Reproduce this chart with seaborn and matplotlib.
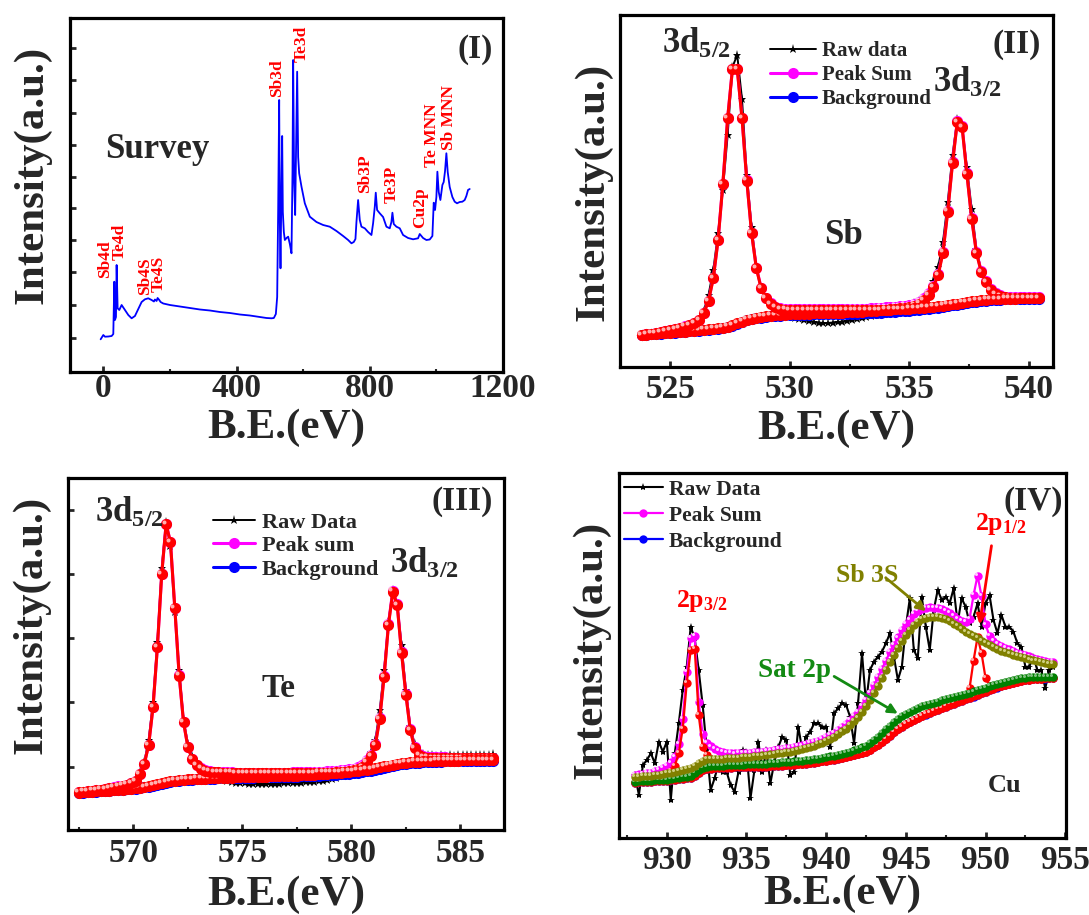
import numpy as np
import matplotlib
matplotlib.use("Agg")
import matplotlib.pyplot as plt
from matplotlib.ticker import MultipleLocator
from matplotlib.transforms import offset_copy
import seaborn as sns

W, H = 1089, 915

# ---------------- (I) survey ----------------
survey_be = [-8, 0, 5, 15, 25, 30, 33, 35, 38, 40,
             43, 48, 55, 65, 75, 85, 95, 105, 115, 125,
             135, 145, 152, 155, 160, 163, 168, 172, 180, 200,
             230, 260, 290, 320, 350, 380, 410, 440, 470, 490,
             505, 512, 518, 522, 525, 528, 530, 532, 535, 537,
             539, 542, 545, 550, 555, 560, 565, 568, 570, 573,
             576, 579, 582, 585, 588, 595, 605, 620, 640, 660,
             680, 700, 720, 735, 745, 752, 757, 760, 765, 770,
             775, 785, 795, 805, 810, 815, 818, 822, 830, 840,
             850, 860, 865, 868, 872, 880, 890, 900, 915, 930,
             945, 950, 960, 970, 980, 988, 992, 996, 1000, 1003,
             1007, 1012, 1018, 1022, 1026, 1030, 1034, 1040, 1048, 1055,
             1062, 1070, 1078, 1085, 1090, 1095, 1100]
survey_int = [32.7, 37, 35.3, 35.5, 36, 38, 90.3, 52, 55, 107,
              63.7, 62, 67, 62, 57, 53.7, 56, 63, 70, 72.7,
              73.7, 72, 70.5, 72.5, 71, 74, 72, 70, 68.5, 67,
              65.5, 64, 62.5, 61.5, 60, 59, 57.5, 56.5, 55, 54,
              53.7, 54, 58, 75, 162, 272, 150, 103.7, 190, 236,
              160, 140, 132, 134, 135.3, 128, 118.7, 200, 312, 190,
              157, 230, 300.3, 215, 198.7, 185.3, 168.7, 155.3, 150, 147,
              145.3, 141, 136, 132, 128.7, 130, 133, 150, 172, 152,
              145.3, 143.7, 140, 137, 148.7, 165, 179.3, 162, 158.7, 155,
              145.3, 143.7, 150, 159.3, 148, 145.3, 143.7, 137, 134, 132.7,
              133.7, 138, 134, 132, 132.5, 136, 169.3, 162, 175, 200.3,
              180, 172, 187, 190, 201, 218.7, 200, 185, 175, 170.3,
              168.7, 170, 170.3, 172, 176, 182, 183]
survey_tags = ["Sb4d", "Te4d", "Sb4S", "Te4S", "Sb3d", "Te3d", "Sb3P", "Te3P",
               "Cu2p", "Te MNN", "Sb MNN"]
tag_be = [5, 50, 125, 167, 521, 596, 785, 866, 950, 986, 1037]
tag_int = [94, 112, 77, 80, 275, 310, 179, 169, 144, 205, 222]

# ---------------- (II) Sb 3d ----------------
sb_be = np.round(np.arange(523.8, 540.41, 0.2), 1)
sb_bg = [32, 32.3, 32.7, 33, 33.4, 33.8, 34.2, 34.5, 34.8, 35.2,
         35.6, 36, 36.4, 36.8, 37.2, 37.7, 38.3, 39, 40, 41.5,
         43.2, 45, 46.6, 47.8, 48.8, 49.5, 50.1, 50.6, 51, 51.3,
         51.6, 51.9, 52.1, 52.3, 52.4, 52.5, 52.6, 52.7, 52.8, 52.9,
         53, 53.1, 53.2, 53.3, 53.4, 53.5, 53.6, 53.8, 54, 54.2,
         54.4, 54.7, 55, 55.3, 55.6, 55.9, 56.3, 56.7, 57.2, 57.7,
         58.2, 58.8, 59.4, 60.1, 60.9, 61.7, 62.5, 63.3, 64.1, 64.8,
         65.4, 66, 66.5, 66.9, 67.2, 67.5, 67.7, 67.9, 68, 68.1,
         68.2, 68.3, 68.3, 68.4]
sb_p52 = [0, .3, .6, 1, 1.4, 1.9, 2.5, 3.3, 4.2, 5.2,
          6.4, 8, 10.6, 16.9, 28.8, 51, 88.7, 144, 208.7, 256.2,
          254.5, 203.7, 139.7, 85.9, 49.9, 29.2, 18.6, 12.4, 8.7, 6.7,
          5.7, 5.1, 4.8, 4.6, 4.4, 4.2, 4.0, 3.9, 3.8, 3.7,
          3.6, 3.5, 3.4, 3.3, 3.2, 3.1, 3.0, 2.9, 2.8, 2.7,
          2.6, 2.5, 2.4, 2.3, 2.2, 2.1, 2.0, 1.9, 1.8, 1.7,
          1.6, 1.5, 1.4, 1.3, 1.2, 1.1, 1.0, .95, .9, .85,
          .8, .75, .7, .65, .6, .55, .5, .5, .45, .45,
          .4, .4, .4, .35]
sb_p32 = [.2, .2, .2, .2, .2, .2, .3, .3, .3, .3,
          .3, .3, .3, .4, .4, .4, .4, .4, .5, .5,
          .5, .5, .5, .6, .6, .6, .6, .7, .7, .7,
          .8, .8, .8, .9, .9, 1.0, 1.0, 1.1, 1.1, 1.2,
          1.2, 1.3, 1.3, 1.4, 1.5, 1.6, 1.7, 1.8, 1.9, 2.0,
          2.2, 2.4, 2.6, 2.8, 3.0, 3.3, 3.7, 4.8, 6.3, 9.3,
          13.8, 21.2, 32.6, 54, 94.4, 142, 182.5, 176.7, 128.9, 83.2,
          48.6, 29, 18.5, 10.1, 5.8, 3.5, 2.3, 1.6, 1.3, 1.1,
          1.0, .9, .9, .8]
sb_raw = [32, 33, 33.5, 34, 35, 36, 37, 38, 39.5, 41,
          42, 44, 46, 56, 72, 97, 134, 177, 232, 300,
          312, 268, 192, 140, 100, 78, 68, 62, 58, 55,
          53, 51, 49, 48, 47, 46, 45, 44.5, 44, 44,
          44.5, 45, 45.5, 46, 47, 48, 49, 50, 51, 52,
          53, 54, 55, 56.5, 58, 60, 62, 64, 66, 70,
          76, 86, 100, 125, 165, 212, 248, 240, 200, 158,
          118, 96, 84, 77, 73, 71, 70, 70, 69.5, 69.5,
          69.5, 69.5, 69.5, 69.5]

# ---------------- (III) Te 3d ----------------
te_be = np.round(np.arange(567.5, 586.51, 0.2), 1)
te_bg = [37.3, 37.5, 37.8, 38.1, 38.4, 38.7, 39, 39.3, 39.6, 39.9,
         40.3, 40.7, 41.1, 41.5, 42, 42.7, 43.5, 44.4, 45.4, 46.4,
         47.4, 48.3, 49, 49.5, 49.9, 50.2, 50.5, 50.7, 50.9, 51.1,
         51.3, 51.5, 51.6, 51.8, 51.9, 52, 52.1, 52.2, 52.3, 52.4,
         52.5, 52.6, 52.7, 52.8, 52.9, 53, 53.1, 53.2, 53.3, 53.4,
         53.5, 53.6, 53.8, 54, 54.2, 54.4, 54.6, 54.8, 55.1, 55.4,
         55.7, 56, 56.4, 56.8, 57.3, 57.9, 58.6, 59.4, 60.3, 61.3,
         62.3, 63.3, 64.2, 65, 65.7, 66.3, 66.8, 67.2, 67.5, 67.8,
         68, 68.2, 68.4, 68.5, 68.6, 68.7, 68.8, 68.9, 69, 69.1,
         69.1, 69.2, 69.2, 69.3, 69.3, 69.4]
te_p52 = [.5, .6, .8, 1.0, 1.2, 1.5, 1.9, 2.4, 2.9, 3.5,
          3.9, 4.5, 5.5, 7.5, 14, 23.3, 41.5, 78.3, 137.3, 209.6,
          258.3, 239.4, 172.7, 104.8, 57.8, 32.5, 20.2, 14.3, 10.6, 8.4,
          7.2, 6.5, 6, 5.6, 5.3, 5.1, 4.9, 4.7, 4.5, 4.3,
          4.2, 4.1, 4.0, 3.9, 3.8, 3.7, 3.6, 3.5, 3.4, 3.3,
          3.2, 3.1, 3.0, 2.9, 2.8, 2.7, 2.6, 2.5, 2.4, 2.3,
          2.2, 2.1, 2.0, 1.9, 1.8, 1.7, 1.6, 1.5, 1.4, 1.3,
          1.3, 1.2, 1.2, 1.1, 1.1, 1.0, 1.0, .9, .9, .8,
          .8, .8, .7, .7, .7, .6, .6, .6, .6, .5,
          .5, .5, .5, .5, .5, .4]
te_p32 = [.2, .2, .2, .2, .2, .2, .2, .2, .2, .2,
          .2, .2, .2, .2, .3, .3, .3, .3, .3, .3,
          .3, .3, .3, .3, .3, .4, .4, .4, .4, .4,
          .4, .4, .4, .5, .5, .5, .5, .5, .6, .6,
          .6, .6, .6, .7, .7, .7, .8, .8, .8, .9,
          .9, 1.0, 1.0, 1.1, 1.1, 1.2, 1.3, 1.4, 1.5, 1.6,
          1.8, 2.0, 2.3, 2.8, 3.6, 5.1, 9.4, 14.6, 24.7, 49.7,
          90.7, 141.7, 174.1, 160, 111.3, 68.7, 33.2, 14.8, 7.5, 5,
          4.2, 3.8, 3.6, 3.4, 3.3, 3.2, 3.1, 3.0, 2.9, 2.8,
          2.8, 2.7, 2.7, 2.6, 2.6, 2.5]
te_raw = [38, 38.5, 39, 39.5, 40, 40.5, 41, 42, 43, 43.5,
          44.5, 45.5, 47, 50, 58, 68, 90, 128, 188, 262,
          308, 284, 218, 160, 110, 86, 74, 66, 61, 58,
          56, 54, 52, 50, 49, 48, 47.5, 47, 47, 46.5,
          46.5, 46, 46, 46, 46, 46.5, 46.5, 47, 47, 47,
          47.5, 47.5, 48, 48, 48.5, 49, 49.5, 50, 51, 52,
          54, 56, 58, 60, 63, 66, 71, 78, 90, 120,
          160, 208, 240, 226, 185, 140, 104, 86, 78, 76,
          75, 75, 74.5, 75, 74.5, 75, 74.5, 75, 75, 75,
          75.5, 75, 75.5, 75, 75.5, 76]

# ---------------- (IV) Cu 2p ----------------
cu_be = np.round(np.arange(928.0, 954.26, 0.25), 2)
cu_bg = [55.5, 55.7, 55.9, 56.1, 56.3, 56.6, 56.9, 57.2, 57.5, 57.9,
         58.3, 58.8, 59.3, 59.8, 60.5, 62.5, 65.5, 67.8, 68.9, 69.4,
         69.7, 69.9, 70.1, 70.3, 70.5, 70.6, 70.7, 70.8, 70.9, 71,
         71.1, 71.2, 71.4, 71.5, 71.7, 71.9, 72.1, 72.4, 72.7, 73,
         73.3, 73.6, 74, 74.5, 75, 75.5, 76, 76.6, 77.2, 77.8,
         78.5, 79.3, 80.1, 80.9, 81.7, 82.8, 83.9, 85, 86.2, 88.3,
         90.7, 93.3, 96, 99.3, 102.5, 105.8, 109.2, 111.5, 113.7, 115.8,
         118, 120, 121.8, 123.5, 125.2, 126.6, 128.2, 129.8, 131.4, 133,
         134.4, 135.8, 137.2, 138.6, 140, 141.5, 143, 144.7, 146.1, 147.6,
         149.1, 150.5, 151.6, 152.7, 153.8, 155, 156, 156.8, 157.6, 158.3,
         158.8, 159.1, 159.3, 159.5, 159.6, 159.7]
cu_sat = [56.3, 56.6, 56.9, 57.2, 57.5, 57.8, 58.1, 58.4, 58.5, 59,
          59.6, 60.2, 60.8, 61.4, 62.5, 65.5, 68.5, 70.5, 71.5, 72,
          72.2, 72.4, 72.5, 72.7, 72.9, 73.1, 73.3, 73.5, 73.7, 73.9,
          74, 74.2, 74.4, 74.5, 74.8, 75.1, 75.4, 75.7, 76, 76.3,
          76.6, 77, 77.4, 77.9, 78.4, 78.8, 79.3, 80.1, 80.8, 81.6,
          82.5, 83.4, 84.4, 85.4, 86.3, 87.6, 89.1, 90.6, 92.4, 95,
          98, 101.5, 105, 108.8, 112.5, 116, 119.5, 121.8, 124, 126,
          128.3, 130.1, 131.9, 133.3, 134.4, 135.3, 136.5, 137.8, 139, 140.3,
          141.3, 142.2, 143.2, 144.2, 145.4, 146.6, 147.7, 149, 150.4, 151.7,
          153.1, 154.5, 155.4, 156.3, 157.2, 158.1, 159, 159.7, 160.3, 161,
          161.3, 161.4, 161.4, 161.5, 161.5, 161.5]
cu_sb3s = [61.3, 61.5, 61.7, 61.9, 62.1, 62.8, 63.4, 64.1, 64.7, 65.5,
           66.3, 67.1, 68, 69.2, 70.5, 72.5, 75.5, 77.5, 78.7, 79,
           79.2, 79.4, 79.5, 79.7, 79.9, 80.1, 80.4, 80.7, 81, 81.4,
           81.8, 82.2, 82.6, 83, 83.6, 84.1, 84.7, 85.3, 85.9, 86.5,
           87.2, 87.8, 88.8, 89.9, 91, 92.2, 93.7, 95.4, 97.1, 98.8,
           101, 103.8, 106.6, 109.4, 112.8, 116.7, 120.6, 126, 131.7, 138.1,
           145.2, 152.5, 159.7, 167.7, 175.7, 183, 190.1, 197.2, 203.5, 208.2,
           213, 216.3, 218.7, 219.8, 220.8, 221.3, 221.3, 220.4, 219, 217.2,
           214.5, 211.8, 208.8, 206, 203.9, 201.8, 199.7, 197.3, 195.2, 193.2,
           191.1, 189, 187.5, 186, 184.6, 183.2, 182, 180.8, 179.7, 178.6,
           177.6, 176.7, 175.8, 175, 174.3, 173.7]
cu_p32 = [1, 1.2, 1.5, 1.8, 2.2, 2.8, 3.5, 4.5, 6, 9,
          14, 26, 50, 95, 127.5, 127, 57.5, 23.5, 14, 10,
          7.6, 5.5, 4, 3, 2.4, 2, 1.7, 1.5, 1.3, 1.2,
          1.1, 1, .9, .8, .8, .7, .7, .6, .6, .5,
          .5, .5, .4, .4, .4, .4, .3, .3, .3, .3,
          .3, .3, .3, .3, .3, .2, .2, .2, .2, .2,
          .2, .2, .2, .2, .2, .2, .2, .2, .2, .2,
          .2, .2, .2, .2, .2, .1, .1, .1, .1, .1,
          .1, .1, .1, .1, .1, .1, .1, .1, .1, .1,
          .1, .1, .1, .1, .1, .1, .1, .1, .1, .1,
          .1, .1, .1, .1, .1, .1]
cu_p12 = [0, 0, 0, 0, 0, 0, 0, 0, 0, 0,
          0, 0, 0, 0, 0, 0, 0, 0, 0, 0,
          0, 0, 0, 0, 0, 0, 0, 0, 0, 0,
          0, 0, 0, 0, 0, 0, 0, 0, 0, 0,
          0, 0, 0, 0, 0, 0, 0, 0, 0, 0,
          0, 0, 0, 0, 0, 0, 0, 0, 0, 0,
          0, 0, 0, 0, 0, 0, 0, 0, 0, 0,
          .2, .2, .3, .3, .4, .4, .5, .6, .7, .8,
          1.0, 1.2, 2, 4, 10, 36, 58, 40, 14, 4.5,
          2, 1.2, .8, .6, .5, .4, .3, .3, .2, .2,
          .2, .2, .1, .1, .1, .1]
cu_raw = [63, 43, 73, 78, 84.7, 74.7, 96.3, 86.3, 96.3, 38,
          84.7, 114.7, 148, 171.3, 211.3, 199.7, 168, 133, 89.7, 48,
          59.7, 74.7, 66.3, 66.3, 53, 46.3, 66.3, 88, 86.3, 39.7,
          68, 96.3, 66.3, 88, 54.7, 76.3, 91.3, 101.3, 98, 63,
          66.3, 111.3, 88, 101.3, 106.3, 114.7, 114.7, 111.3, 111.3, 91.3,
          124.7, 129.7, 134.7, 133, 121.3, 94.7, 134.7, 184.7, 134.7, 168,
          176.3, 181.3, 186.3, 194.7, 204.7, 181.3, 158, 171.3, 211.3, 239.7,
          188, 179.7, 241.3, 211.3, 188, 228, 248, 238, 241.3, 234.7,
          249.7, 214.7, 239.7, 231.3, 214.7, 221.3, 234.7, 211.3, 234.7, 243,
          218, 204.7, 223, 211.3, 211.3, 206.3, 194.7, 191.3, 171.3, 171.3,
          181.3, 168, 168, 149.7, 168, 171.3]

sns.set_style("white")
plt.rcParams["font.family"] = ["Liberation Serif", "DejaVu Serif"]
plt.rcParams["font.weight"] = "bold"
plt.rcParams["axes.labelweight"] = "bold"
plt.rcParams["mathtext.fontset"] = "custom"
plt.rcParams["mathtext.rm"] = "Liberation Serif:bold"
plt.rcParams["mathtext.it"] = "Liberation Serif:bold"
plt.rcParams["mathtext.bf"] = "Liberation Serif:bold"
plt.rcParams["mathtext.default"] = "rm"

fig = plt.figure(figsize=(W / 100, H / 100), dpi=100)


def px_axes(l, t, r, b):
    return fig.add_axes([l / W, 1 - b / H, (r - l) / W, (b - t) / H])


def line(ax, x, y, color, ms, lw, marker="o", shine=None, label=None):
    kw = dict(label=label) if label else {}
    sns.lineplot(x=x, y=y, ax=ax, color=color, linewidth=lw, marker=marker,
                 markersize=ms, markeredgewidth=0, markeredgecolor=color,
                 sort=False, estimator=None, errorbar=None, **kw)
    if shine:
        off = offset_copy(ax.transData, fig=fig, x=-ms * 0.22, y=ms * 0.22, units="points")
        ax.plot(x, y, ls="none", marker="o", ms=ms * 0.36, mew=0, color=shine, transform=off)


def frame(ax, xlim, ylim, xticks, minor, tick_pad, xlab_y, ylab_xy, yticks=None):
    ax.set_xlim(*xlim)
    ax.set_ylim(*ylim)
    for s in ax.spines.values():
        s.set_linewidth(2.3)
        s.set_color("black")
    ax.set_xticks(xticks)
    ax.xaxis.set_minor_locator(MultipleLocator(minor))
    ax.tick_params(axis="x", which="major", direction="in", length=4, width=2,
                   labelsize=24, pad=tick_pad, bottom=True)
    ax.tick_params(axis="x", which="minor", direction="in", length=2.5, width=1.5, bottom=True)
    if yticks is None:
        ax.set_yticks([])
    else:
        ax.set_yticks(yticks)
        ax.tick_params(axis="y", which="major", direction="in", length=4, width=2,
                       labelleft=False, left=True)
    ax.set_xlabel("B.E.(eV)", fontsize=31)
    ax.xaxis.set_label_coords(0.5, xlab_y)
    ax.set_ylabel("Intensity(a.u.)", fontsize=31)
    ax.yaxis.set_label_coords(*ylab_xy)
    for lab in ax.get_xticklabels():
        lab.set_fontweight("bold")


def legend(ax, labels, anchor, size, hl, sp):
    leg = ax.legend(loc="upper left", bbox_to_anchor=anchor, frameon=False, borderpad=0,
                    borderaxespad=0, handlelength=hl, handletextpad=0.3, labelspacing=sp,
                    prop={"weight": "bold", "size": size, "family": "Liberation Serif"})
    for t, s in zip(leg.get_texts(), labels):
        t.set_text(s)


# ----- panel I -----
ax1 = px_axes(70, 18, 503, 372)
line(ax1, survey_be, survey_int, "#0000ff", 0, 1.3, marker=None)
for s, x, y in zip(survey_tags, tag_be, tag_int):
    ax1.text(x, y, s, rotation=90, ha="center", va="bottom", color="#ff0000",
             fontsize=12.5, fontweight="bold")
ax1.text(161, 222, "Survey", fontsize=25, fontweight="bold", ha="center", va="center")
ax1.text(0.935, 0.91, "(I)", transform=ax1.transAxes, fontsize=24, fontweight="bold",
         ha="center", va="center")
frame(ax1, (-100, 1200), (0, 354), [0, 400, 800, 1200], 200, 1, -0.102, (-0.042, 0.556),
      yticks=[34, 67, 100, 132, 164, 195, 227, 259, 292, 324])


def doublet(ax, be, bg, pa, pb, raw, raw_label, sum_label):
    bg = np.array(bg)
    pa = np.array(pa)
    pb = np.array(pb)
    line(ax, be, raw, "black", 6.5, 1.4, marker="*", label=raw_label)
    line(ax, be, bg + pa + pb, "#ff00ff", 8, 2.2, shine="#ffc0ff", label=sum_label)
    line(ax, be, bg, "#0000ff", 8, 2.2, shine="#a0a0ff", label="Background")
    line(ax, be, bg + pb, "#ff0000", 8, 2.2, shine="#ffb0b0")
    line(ax, be, bg + pa, "#ff0000", 8, 2.2, shine="#ffb0b0")


# ----- panel II -----
ax2 = px_axes(620, 15, 1053, 367)
doublet(ax2, sb_be, sb_bg, sb_p52, sb_p32, sb_raw, "Raw data", "Peak Sum")
legend(ax2, ["Raw data", "Peak Sum", "Background"], (0.346, 0.926), 15, 2.2, 0.2)
ax2.text(0.097, 0.892, "3d$_{5/2}$", transform=ax2.transAxes, fontsize=25, ha="left", va="baseline")
ax2.text(0.723, 0.781, "3d$_{3/2}$", transform=ax2.transAxes, fontsize=25, ha="left", va="baseline")
ax2.text(0.517, 0.375, "Sb", transform=ax2.transAxes, fontsize=25, ha="center", va="center")
ax2.text(0.917, 0.915, "(II)", transform=ax2.transAxes, fontsize=24, ha="center", va="center")
frame(ax2, (522.9, 541.0), (0, 352), [525, 530, 535, 540], 2.5, 5, -0.122, (-0.018, 0.497))

# ----- panel III -----
ax3 = px_axes(68, 478, 504, 830)
doublet(ax3, te_be, te_bg, te_p52, te_p32, te_raw, "Raw Data", "Peak sum")
legend(ax3, ["Raw Data", "Peak sum", "Background"], (0.333, 0.903), 16, 1.9, 0.13)
ax3.text(0.062, 0.875, "3d$_{5/2}$", transform=ax3.transAxes, fontsize=25, ha="left", va="baseline")
ax3.text(0.739, 0.730, "3d$_{3/2}$", transform=ax3.transAxes, fontsize=25, ha="left", va="baseline")
ax3.text(0.482, 0.403, "Te", transform=ax3.transAxes, fontsize=24, ha="center", va="center")
ax3.text(0.904, 0.932, "(III)", transform=ax3.transAxes, fontsize=24, ha="center", va="center")
frame(ax3, (567.0, 587.0), (0, 352), [570, 575, 580, 585], 2.5, 6, -0.128, (-0.041, 0.582),
      yticks=[63, 128, 192, 256, 320])

# ----- panel IV -----
ax4 = px_axes(619, 473, 1066, 838)
bg4 = np.array(cu_bg)
sat4 = np.array(cu_sat)
sb4 = np.array(cu_sb3s)
p32 = np.array(cu_p32)
p12 = np.array(cu_p12)
line(ax4, cu_be, cu_raw, "black", 6, 1.5, marker="*", label="Raw Data")
line(ax4, cu_be, sb4 + sat4 - bg4 + p32 + p12, "#ff00ff", 6, 1.6, shine="#ffd0ff", label="Peak Sum")
line(ax4, cu_be, bg4, "#0000ff", 6, 1.6, shine="#a0a0ff", label="Background")
line(ax4, cu_be, bg4 + p32, "#ff0000", 6, 1.6, shine="#ffb0b0")
line(ax4, cu_be, bg4 + p12, "#ff0000", 6, 1.6, shine="#ffb0b0")
line(ax4, cu_be, sat4, "#008000", 6, 1.6, shine="#80c080")
line(ax4, cu_be, sb4, "#808000", 6, 1.6, shine="#d0d080")
legend(ax4, ["Raw Data", "Peak Sum", "Background"], (0.011, 0.981), 15.5, 1.8, 0.27)
ax4.text(0.926, 0.923, "(IV)", transform=ax4.transAxes, fontsize=24, ha="center", va="center")
ax4.text(0.796, 0.844, "2p$_{1/2}$", transform=ax4.transAxes, fontsize=18.5, color="#ff0000",
         ha="left", va="baseline")
ax4.text(0.128, 0.633, "2p$_{3/2}$", transform=ax4.transAxes, fontsize=18.5, color="#ff0000",
         ha="left", va="baseline")
ax4.text(0.555, 0.72, "Sb 3S", transform=ax4.transAxes, fontsize=18.5, color="#808000",
         ha="center", va="center")
ax4.text(0.392, 0.46, "Sat 2p", transform=ax4.transAxes, fontsize=19.5, color="#138a13",
         ha="center", va="center")
ax4.text(0.863, 0.145, "Cu", transform=ax4.transAxes, fontsize=19, ha="center", va="center")
ax4.annotate("", xy=(949.6, 211), xytext=(950.4, 295),
             arrowprops=dict(arrowstyle="-|>", color="#ff0000", lw=2, mutation_scale=14))
ax4.annotate("", xy=(946.4, 225), xytext=(943.6, 262),
             arrowprops=dict(arrowstyle="-|>", color="#808000", lw=2, mutation_scale=14))
ax4.annotate("", xy=(944.65, 123), xytext=(940.35, 163),
             arrowprops=dict(arrowstyle="-|>", color="#138a13", lw=2, mutation_scale=14))
frame(ax4, (927.0, 955.05), (0, 365), [930, 935, 940, 945, 950, 955], 2.5, 5, -0.1,
      (-0.018, 0.515))

fig.savefig("out.png", dpi=100)
